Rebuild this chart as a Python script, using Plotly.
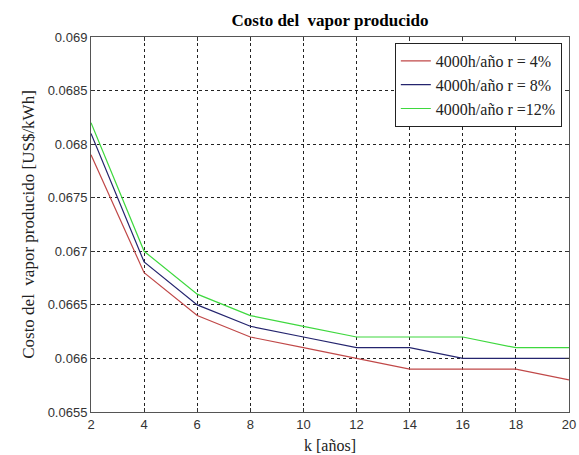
import plotly.graph_objects as go

k = [2, 4, 6, 8, 10, 12, 14, 16, 18, 20]
r4 = [0.0679, 0.0668, 0.0664, 0.0662, 0.0661, 0.0660, 0.0659, 0.0659, 0.0659, 0.0658]
r8 = [0.0681, 0.0669, 0.0665, 0.0663, 0.0662, 0.0661, 0.0661, 0.0660, 0.0660, 0.0660]
r12 = [0.0682, 0.0670, 0.0666, 0.0664, 0.0663, 0.0662, 0.0662, 0.0662, 0.0661, 0.0661]
names = ["4000h/año r = 4%", "4000h/año r = 8%", "4000h/año r =12%"]
colors = ["#c04848", "#24246e", "#3ed83e"]
yticks = [0.0655, 0.066, 0.0665, 0.067, 0.0675, 0.068, 0.0685, 0.069]
ytext = ["0.0655", "0.066", "0.0665", "0.067", "0.0675", "0.068", "0.0685", "0.069"]

serif = "Liberation Serif, Times New Roman, serif"
sans = "Liberation Sans, Arial, sans-serif"

fig = go.Figure()
for ys, n, c in zip([r4, r8, r12], names, colors):
    fig.add_trace(go.Scatter(x=k, y=ys, mode="lines", name=n,
                             line=dict(color=c, width=1.2)))

axis_common = dict(showline=True, linecolor="#555555", linewidth=1, mirror="ticks",
                   ticks="inside", ticklen=4, tickcolor="#333333",
                   showgrid=True, gridcolor="#222222", gridwidth=1, griddash="3px,3px",
                   zeroline=False, automargin=False, ticklabeloverflow="allow",
                   tickfont=dict(family=sans, size=13, color="#333333"))

fig.update_layout(
    width=579, height=455,
    margin=dict(l=91, r=10, t=37, b=43),
    paper_bgcolor="white", plot_bgcolor="white",
    title=dict(text="<b>Costo del  vapor producido</b>", x=0.5, xanchor="center",
               xref="paper", y=0.956, yanchor="middle",
               font=dict(family=serif, size=17, color="black")),
    xaxis=dict(range=[2, 20], tickvals=k, ticktext=[str(v) for v in k],
               title=dict(text="k [años]", standoff=9,
                          font=dict(family=serif, size=16, color="#222222")),
               **axis_common),
    yaxis=dict(range=[0.0655, 0.069], tickvals=yticks, ticktext=ytext,
               title=dict(text="Costo del  vapor producido [US$/kWh]", standoff=8,
                          font=dict(family=serif, size=17, color="#222222")),
               **axis_common),
    legend=dict(x=0.985, y=0.984, xanchor="right", yanchor="top",
                bgcolor="white", bordercolor="#222222", borderwidth=1,
                font=dict(family=serif, size=16, color="#222222"),
                tracegroupgap=0, itemwidth=30),
    showlegend=True,
)

fig.write_html("out.html",
               config={"displayModeBar": False},
               post_script="document.body.style.margin='0px';document.body.style.overflow='hidden';")
